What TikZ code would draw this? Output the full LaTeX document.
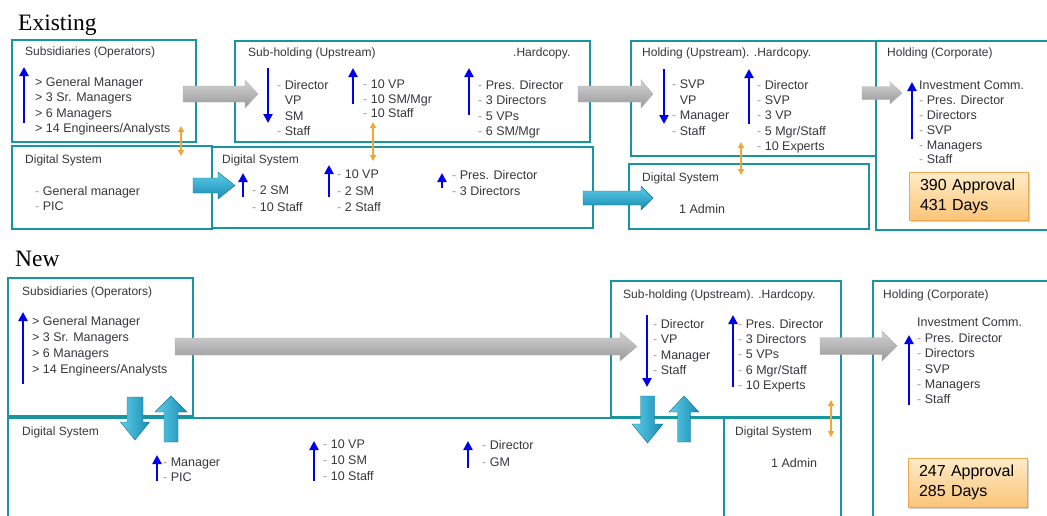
\documentclass[tikz,border=0pt]{standalone}
\usepackage{fontspec}
\setmainfont{Liberation Sans}
\newfontfamily\headfont{Liberation Serif}
\usetikzlibrary{positioning,arrows.meta,shadows}

\definecolor{boxteal}{RGB}{24,150,160}
\definecolor{rankblue}{RGB}{0,0,235}
\definecolor{linkorange}{RGB}{245,165,50}
\definecolor{cyanlt}{RGB}{95,205,232}
\definecolor{cyandk}{RGB}{22,140,180}
\definecolor{apprtop}{RGB}{255,236,200}
\definecolor{apprbot}{RGB}{250,196,120}
\definecolor{apprline}{RGB}{240,168,80}
\definecolor{txt}{RGB}{55,55,60}
\definecolor{dashgray}{RGB}{175,150,150}

\newcommand{\dd}{{\color{dashgray}-}\ }
\newcommand{\nd}{\hphantom{-\ }}

\tikzset{
  unit/.style={draw=boxteal, line width=2.6pt, anchor=north west, inner sep=0pt, outer sep=0pt},
  boxtitle/.style={inner sep=0pt, text=txt, font=\fontsize{12}{14}\selectfont},
  staff/.style={anchor=north west, inner sep=0pt, align=left, text=txt, font=\fontsize{12.5}{15.5}\selectfont},
  rank/.style={draw=rankblue, line width=2.8pt, -{Triangle[length=9pt,width=9pt]}},
  link/.style={draw=linkorange, line width=1.3pt, {Triangle[length=6pt,width=6pt]}-{Triangle[length=6pt,width=6pt]}},
  tubearrow/.style={draw=gray!60, line width=0.4pt, top color=gray!35, middle color=white, bottom color=gray!80},
  flowh/.style={draw=cyandk!80!black, line width=0.4pt, top color=cyanlt, bottom color=cyandk},
  flowv/.style={draw=cyandk!80!black, line width=0.4pt, left color=cyanlt, right color=cyandk},
  approval/.style={draw=apprline, line width=0.8pt, top color=apprtop, bottom color=apprbot,
    drop shadow={opacity=0.35, shadow xshift=1.5pt, shadow yshift=-1.5pt},
    align=left, inner xsep=11pt, font=\fontsize{16}{20}\selectfont},
  pics/blockarrow/.style n args={4}{code={
    \path[pic actions] (0,-#2) -- (#1-#4,-#2) -- (#1-#4,-#3) -- (#1,0)
      -- (#1-#4,#3) -- (#1-#4,#2) -- (0,#2) -- cycle;
  }},
}

\begin{document}
\begin{tikzpicture}[x=1pt, y=-1pt]
    \fill[white] (0,0) rectangle (1047,515);
    \useasboundingbox (0,0) rectangle (1047,515);

    % Existing
    \node[anchor=base west, inner sep=0pt, font=\headfont\fontsize{23.5}{26}\selectfont] (existing) at (18,30) {Existing};

    \node[unit, minimum width=184, minimum height=102] (exop) at (12,40) {};
    \node[unit, minimum width=200, minimum height=83] (exd1) at (12,146) {};
    \node[unit, minimum width=355, minimum height=101] (exsub) at (235,41) {};
    \node[unit, minimum width=381, minimum height=81] (exd2) at (212,147) {};
    \node[unit, minimum width=245, minimum height=115] (exhu) at (631,41) {};
    \node[unit, minimum width=240, minimum height=65] (exd3) at (629,164) {};
    \node[unit, minimum width=180, minimum height=189] (excorp) at (876,41) {};

    \node[boxtitle, below right=7pt and 13pt of exop.north west] (exop-t) {Subsidiaries (Operators)};
    \node[boxtitle, below right=9pt and 13pt of exd1.north west] (exd1-t) {Digital System};
    \node[boxtitle, below right=7pt and 13pt of exsub.north west] (exsub-t) {Sub-holding (Upstream)};
    \node[boxtitle, below right=8pt and 10pt of exd2.north west] (exd2-t) {Digital System};
    \node[boxtitle, below right=7pt and 11pt of exhu.north west] (exhu-t) {Holding (Upstream). .Hardcopy.};
    \node[boxtitle, below right=9pt and 13pt of exd3.north west] (exd3-t) {Digital System};
    \node[boxtitle, below right=7pt and 11pt of excorp.north west] (excorp-t) {Holding (Corporate)};
    \node[boxtitle, anchor=north west] (exsub-h) at (513,48) {.Hardcopy.};

    \node[staff] (exop-l) at (35,77) {> General Manager\\> 3 Sr. Managers\\> 6 Managers\\> 14 Engineers/Analysts};
    \node[staff] (exd1-l) at (35,186) {\dd General manager\\\dd PIC};
    \node[staff] (exsub-a) at (277,80) {\dd Director\\\nd VP\\\nd SM\\\dd Staff};
    \node[staff, font=\fontsize{12.5}{14.5}\selectfont] (exsub-b) at (363,80) {\dd 10 VP\\\dd 10 SM/Mgr\\\dd 10 Staff};
    \node[staff] (exsub-c) at (478,80) {\dd Pres. Director\\\dd 3 Directors\\\dd 5 VPs\\\dd 6 SM/Mgr};
    \node[staff, font=\fontsize{12.5}{16.5}\selectfont] (exd2-a) at (252,186) {\dd 2 SM\\\dd 10 Staff};
    \node[staff, font=\fontsize{12.5}{16.5}\selectfont] (exd2-b) at (337,170) {\dd 10 VP\\\dd 2 SM\\\dd 2 Staff};
    \node[staff, font=\fontsize{12.5}{16}\selectfont] (exd2-c) at (452,170) {\dd Pres. Director\\\dd 3 Directors};
    \node[staff] (exhu-a) at (672,80) {\dd SVP\\\nd VP\\\dd Manager\\\dd Staff};
    \node[staff, font=\fontsize{12.5}{15.25}\selectfont] (exhu-b) at (757,80) {\dd Director\\\dd SVP\\\dd 3 VP\\\dd 5 Mgr/Staff\\\dd 10 Experts};
    \node[staff] (exd3-l) at (679,204) {1 Admin};
    \node[staff, font=\fontsize{12.5}{14.8}\selectfont] (excorp-l) at (919,81) {Investment Comm.\\\dd Pres. Director\\\dd Directors\\\dd SVP\\\dd Managers\\\dd Staff};
    \node[approval, text width=97pt, minimum height=48pt] (exappr) at (968.5,196) {390 Approval\\431 Days};

    % New
    \node[anchor=base west, inner sep=0pt, font=\headfont\fontsize{23.5}{26}\selectfont] (new) at (15,266) {New};

    \node[unit, minimum width=185, minimum height=138] (nwop) at (8,278) {};
    \node[unit, minimum width=716, minimum height=110] (nwd1) at (8,418) {};
    \node[unit, minimum width=230, minimum height=136] (nwsub) at (611,281) {};
    \node[unit, minimum width=117, minimum height=110] (nwd2) at (724,418) {};
    \node[unit, minimum width=185, minimum height=245] (nwcorp) at (873,281) {};

    \node[boxtitle, below right=9pt and 14pt of nwop.north west] (nwop-t) {Subsidiaries (Operators)};
    \node[boxtitle, below right=9pt and 14pt of nwd1.north west] (nwd1-t) {Digital System};
    \node[boxtitle, below right=9pt and 12pt of nwsub.north west] (nwsub-t) {Sub-holding (Upstream). .Hardcopy.};
    \node[boxtitle, below right=9pt and 11pt of nwd2.north west] (nwd2-t) {Digital System};
    \node[boxtitle, below right=9pt and 10pt of nwcorp.north west] (nwcorp-t) {Holding (Corporate)};

    \node[staff, font=\fontsize{12.5}{16}\selectfont] (nwop-l) at (32,316) {> General Manager\\> 3 Sr. Managers\\> 6 Managers\\> 14 Engineers/Analysts};
    \node[staff, font=\fontsize{12.5}{15}\selectfont] (nwd1-a) at (163,458) {\dd Manager\\\dd PIC};
    \node[staff, font=\fontsize{12.5}{16}\selectfont] (nwd1-b) at (323,440) {\dd 10 VP\\\dd 10 SM\\\dd 10 Staff};
    \node[staff, font=\fontsize{12.5}{17}\selectfont] (nwd1-c) at (482,440) {\dd Director\\\dd GM};
    \node[staff] (nwsub-a) at (653,319) {\dd Director\\\dd VP\\\dd Manager\\\dd Staff};
    \node[staff, font=\fontsize{12.5}{15.25}\selectfont] (nwsub-b) at (738,319) {\dd Pres. Director\\\dd 3 Directors\\\dd 5 VPs\\\dd 6 Mgr/Staff\\\dd 10 Experts};
    \node[staff] (nwd2-l) at (771,458) {1 Admin};
    \node[staff, font=\fontsize{12.5}{15.4}\selectfont] (nwcorp-l) at (917,318) {Investment Comm.\\\dd Pres. Director\\\dd Directors\\\dd SVP\\\dd Managers\\\dd Staff};
    \node[approval, text width=97pt, minimum height=49pt] (nwappr) at (967.5,482.5) {247 Approval\\285 Days};

    % hierarchy arrows
    \foreach \n/\x/\ya/\yb in {ra/24/123/67, rb/268/68/123, rc/353/104/68, rd/469/115/68,
        re/243/197/173, rf/329/197/165, rg/442/188/173, rh/664/69/124, ri/749/124/69,
        rj/912/139/82, rk/23/384/312, rl/157/481/455, rm/314/481/441, rn/468/468/441,
        ro/647/315/387, rp/733/387/315, rq/909/405/335} {
        \coordinate (\n-from) at (\x,\ya);
        \coordinate (\n-to) at (\x,\yb);
        \draw[rank] (\n-from) -- (\n-to);
    }

    % hardcopy links
    \foreach \n/\x/\ya/\yb in {oa/181/126/156, ob/373/122/161, oc/741/142/175, od/831/400/437} {
        \coordinate (\n-from) at (\x,\ya);
        \coordinate (\n-to) at (\x,\yb);
        \draw[link] (\n-from) -- (\n-to);
    }

    % approval flow
    \coordinate (g1) at (183,94);
    \coordinate (g2) at (578,94);
    \coordinate (g3) at (862,93);
    \coordinate (g4) at (175,346.5);
    \coordinate (g5) at (820,346);
    \pic[tubearrow] at (g1) {blockarrow={75}{8}{14}{13}};
    \pic[tubearrow] at (g2) {blockarrow={75}{8}{14}{12}};
    \pic[tubearrow] at (g3) {blockarrow={40}{6.5}{11}{12}};
    \pic[tubearrow] at (g4) {blockarrow={462}{8.5}{14.5}{17}};
    \pic[tubearrow] at (g5) {blockarrow={77}{8.5}{15}{15}};

    % digital flow
    \coordinate (c1) at (193,185.5);
    \coordinate (c2) at (583,198);
    \coordinate (d1) at (135,397);
    \coordinate (d2) at (171,442);
    \coordinate (d3) at (647.5,396);
    \coordinate (d4) at (684,442);
    \pic[flowh] at (c1) {blockarrow={42}{7.5}{13.5}{17}};
    \pic[flowh] at (c2) {blockarrow={70}{7}{12}{12}};
    \pic[flowv, rotate=-90] at (d1) {blockarrow={43}{8}{14.5}{18}};
    \pic[flowv, rotate=90] at (d2) {blockarrow={46}{7}{16}{16}};
    \pic[flowv, rotate=-90] at (d3) {blockarrow={47}{7}{15.5}{19}};
    \pic[flowv, rotate=90] at (d4) {blockarrow={46}{6.5}{15}{16}};
\end{tikzpicture}
\end{document}
